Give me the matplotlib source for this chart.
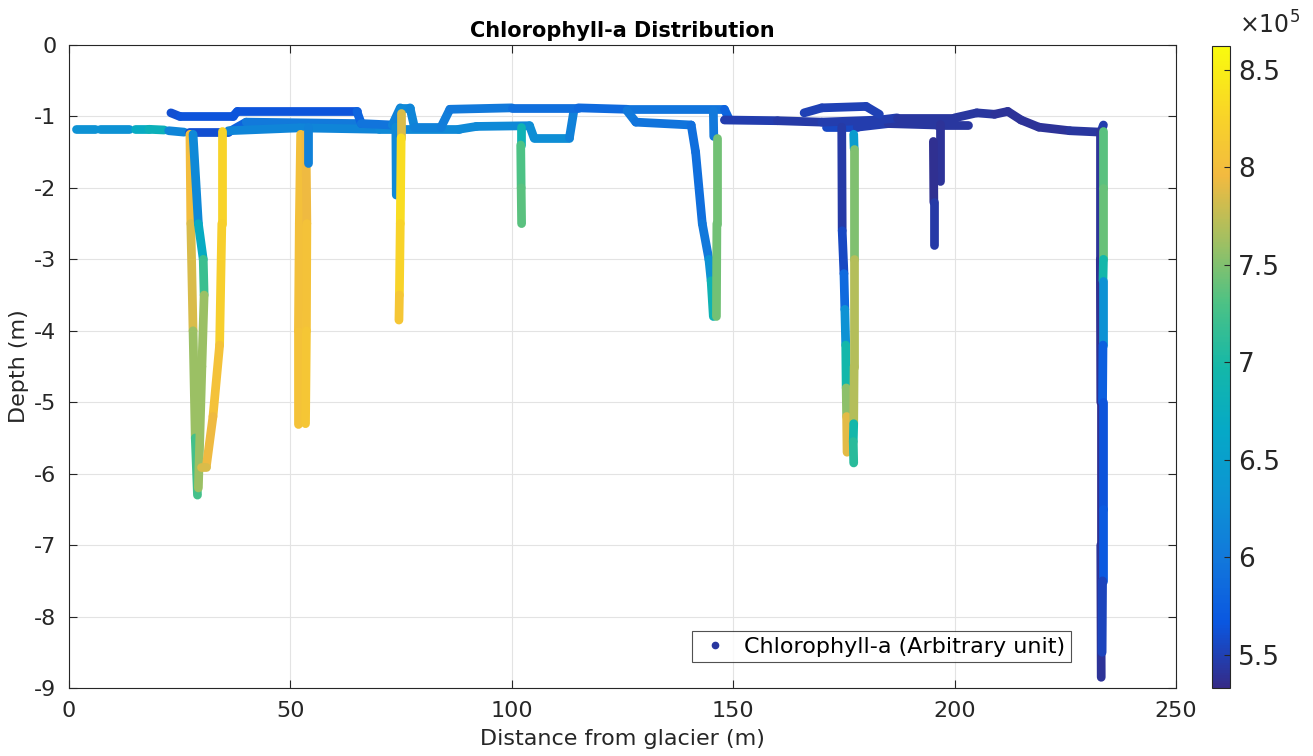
import numpy as np
import matplotlib.pyplot as plt
from matplotlib.collections import LineCollection
from matplotlib.colors import LinearSegmentedColormap, Normalize
from matplotlib.lines import Line2D

plt.rcParams['axes.unicode_minus'] = False

# boat track: (distance from glacier [m], depth [m], chlorophyll-a [x1e5 a.u.])
# surface pieces near the start (logger dropped samples here)
surf_dash_1 = [(1.5, -1.18, 6.3), (5.8, -1.18, 6.3)]
surf_dash_2 = [(7.0, -1.18, 6.3), (13.5, -1.18, 6.3)]
surf_dash_3 = [(15.0, -1.18, 6.4), (18.0, -1.18, 7.0), (21.5, -1.19, 6.6)]
surf_dash_4 = [(22.5, -1.2, 6.3), (26.0, -1.22, 6.0)]

# surface runs between the casts
surf_upper_west = [(23.0, -0.95, 5.6), (25.0, -1.0, 5.6), (37.0, -1.0, 5.7), (38.0, -0.93, 5.6),
                   (65.0, -0.93, 5.7), (66.0, -1.1, 5.9), (73.0, -1.12, 6.0), (74.8, -0.88, 6.2),
                   (77.0, -0.88, 6.2), (78.0, -1.15, 6.1), (84.0, -1.15, 6.1), (86.0, -0.9, 6.0),
                   (100.0, -0.88, 6.0), (115.0, -0.88, 5.8), (126.0, -0.9, 5.9), (148.0, -0.9, 6.0),
                   (149.0, -1.03, 5.6)]
surf_middle_west = [(27.0, -1.22, 5.6), (36.0, -1.22, 5.6), (40.0, -1.08, 6.0), (65.0, -1.1, 6.0)]
surf_lower_west = [(36.0, -1.2, 6.2), (52.0, -1.16, 6.1), (70.0, -1.18, 6.2), (88.0, -1.18, 6.2),
                   (92.0, -1.14, 6.2), (104.0, -1.13, 6.2), (105.0, -1.3, 6.3), (113.0, -1.3, 6.2),
                   (114.0, -0.92, 6.0)]
surf_branch_145 = [(126.0, -0.92, 6.0), (128.0, -1.08, 6.0), (140.5, -1.12, 5.9)]
surf_stub_146 = [(145.5, -0.92, 6.0), (145.6, -1.28, 6.0)]

surf_east_main = [(148.0, -1.05, 5.5), (160.0, -1.06, 5.45), (170.0, -1.08, 5.45),
                  (183.0, -1.05, 5.5), (187.0, -1.02, 5.45), (200.0, -1.02, 5.4),
                  (205.0, -0.95, 5.45), (209.0, -0.97, 5.4), (212.0, -0.93, 5.4),
                  (215.0, -1.05, 5.4), (219.0, -1.15, 5.4), (226.0, -1.2, 5.4),
                  (233.0, -1.22, 5.45), (233.6, -1.12, 5.5)]
surf_east_loop = [(166.0, -0.95, 5.5), (170.0, -0.88, 5.5), (180.0, -0.86, 5.5), (183.0, -0.97, 5.5)]
surf_east_lower = [(171.0, -1.15, 5.6), (178.0, -1.15, 5.5), (185.0, -1.1, 5.45),
                   (196.0, -1.12, 5.4), (203.0, -1.12, 5.45)]

# vertical casts
cast_28a = [(27.3, -1.25, 8.0), (27.5, -2.5, 8.0), (28.0, -4.0, 7.7), (28.5, -5.5, 7.5), (29.0, -6.3, 7.0)]
cast_28b = [(28.0, -1.25, 6.0), (29.2, -2.5, 6.4), (30.3, -3.0, 7.0), (30.5, -3.5, 7.4),
            (30.0, -4.5, 7.8), (29.2, -6.2, 7.4)]
cast_34 = [(34.5, -1.2, 8.2), (34.5, -2.5, 8.3), (34.0, -4.2, 8.1), (32.5, -5.2, 8.0),
           (31.0, -5.9, 7.9), (29.8, -5.9, 7.8)]
cast_52a = [(52.3, -1.25, 8.0), (52.0, -2.5, 8.05), (51.8, -4.0, 8.0), (51.8, -5.3, 8.1)]
cast_52b = [(53.5, -1.25, 7.9), (53.7, -2.5, 8.0), (53.6, -4.0, 8.1), (53.4, -5.3, 8.1)]
cast_54 = [(54.0, -1.15, 6.0), (54.0, -1.65, 6.2)]
cast_74a = [(73.8, -1.15, 6.1), (73.9, -2.1, 6.3)]
cast_74b = [(75.0, -0.95, 7.3), (75.0, -1.3, 8.4), (74.8, -2.5, 8.3), (74.6, -3.5, 8.2), (74.5, -3.85, 8.0)]
cast_102 = [(102.0, -1.15, 6.5), (102.0, -1.4, 7.2), (102.1, -2.0, 7.4), (102.2, -2.5, 7.3)]
cast_143 = [(140.5, -1.12, 5.9), (141.5, -1.5, 5.9), (143.0, -2.5, 5.9), (144.5, -3.0, 6.1),
            (145.0, -3.3, 6.5), (145.5, -3.8, 7.2)]
cast_146 = [(146.3, -1.3, 7.4), (146.3, -2.5, 7.5), (146.2, -3.8, 7.4)]
cast_175 = [(174.5, -1.15, 5.5), (174.6, -2.6, 5.4), (175.0, -3.2, 5.7), (175.2, -3.7, 6.0),
            (175.4, -4.2, 6.6), (175.5, -4.8, 7.3), (175.6, -5.2, 7.8), (175.7, -5.7, 8.0)]
cast_177 = [(177.2, -1.25, 5.5), (177.3, -1.45, 7.4), (177.3, -3.0, 7.6), (177.3, -4.5, 7.8),
            (177.2, -5.3, 7.6), (177.1, -5.55, 6.3), (177.2, -5.85, 7.9)]
cast_196a = [(196.6, -1.1, 5.4), (196.6, -1.9, 5.4)]
cast_196b = [(195.2, -1.35, 5.35), (195.3, -2.2, 5.4), (195.3, -2.8, 5.5)]
cast_233a = [(232.9, -1.2, 5.4), (232.9, -3.0, 5.4), (233.0, -5.0, 5.35), (233.0, -7.0, 5.4),
             (233.1, -8.85, 5.4)]
cast_233b = [(233.6, -1.2, 7.2), (233.6, -2.0, 7.5), (233.6, -3.0, 7.3), (233.5, -3.3, 6.6),
             (233.5, -4.2, 6.0), (233.4, -5.0, 5.5), (233.4, -6.5, 5.8), (233.4, -7.5, 5.6),
             (233.3, -8.5, 5.45)]

tracks = [surf_dash_1, surf_dash_2, surf_dash_3, surf_dash_4,
          surf_middle_west, surf_lower_west, surf_upper_west, surf_branch_145, surf_stub_146,
          cast_28a, cast_28b, cast_34, cast_52a, cast_52b, cast_54, cast_74a, cast_74b,
          cast_102, cast_143, cast_146,
          surf_east_lower, surf_east_main, surf_east_loop,
          cast_175, cast_177, cast_196a, cast_196b, cast_233a, cast_233b]

chl_min, chl_max = 5.33, 8.62

# parula-like colormap
parula = LinearSegmentedColormap.from_list('parula', [
    (0.00, (0.208, 0.166, 0.529)), (0.10, (0.040, 0.340, 0.880)),
    (0.20, (0.070, 0.470, 0.860)), (0.30, (0.050, 0.580, 0.830)),
    (0.40, (0.020, 0.660, 0.780)), (0.50, (0.080, 0.720, 0.660)),
    (0.60, (0.300, 0.760, 0.520)), (0.70, (0.640, 0.750, 0.380)),
    (0.80, (0.950, 0.730, 0.250)), (0.90, (0.975, 0.840, 0.150)),
    (1.00, (0.976, 0.983, 0.054))])
norm = Normalize(chl_min, chl_max)

fig = plt.figure(figsize=(13.13, 7.56), dpi=100)
ax = fig.add_axes([0.0526, 0.0899, 0.8431, 0.8506])

for tr in tracks:
    pts = np.array(tr)
    segs = np.stack([pts[:-1, :2], pts[1:, :2]], axis=1)
    vals = (pts[:-1, 2] + pts[1:, 2]) / 2
    lc = LineCollection(segs, cmap=parula, norm=norm, linewidths=6.3,
                        capstyle='round', joinstyle='round')
    lc.set_array(vals)
    ax.add_collection(lc)

ax.set_xlim(0, 250)
ax.set_ylim(-9, 0)
ax.set_xticks(range(0, 251, 50))
ax.set_yticks(range(-9, 1))
ax.grid(True, color='#e3e3e3', linewidth=0.8)
ax.set_axisbelow(True)
ax.tick_params(direction='in', length=6, labelsize=16, colors='#262626',
               top=True, right=True, pad=9)
for sp in ax.spines.values():
    sp.set_color('#262626')
    sp.set_linewidth(0.8)

ax.set_xlabel('Distance from glacier (m)', fontsize=16, color='#262626', labelpad=6)
ax.set_ylabel('Depth (m)', fontsize=16, color='#262626', labelpad=4)
ax.set_title('Chlorophyll-a Distribution', fontsize=15, fontweight='bold', pad=6)

handle = Line2D([], [], marker='.', linestyle='none', color=parula(0.03), markersize=9)
leg = ax.legend([handle], ['Chlorophyll-a (Arbitrary unit)'], loc='lower right',
                bbox_to_anchor=(0.905, 0.04), fontsize=16, frameon=True, fancybox=False,
                handletextpad=0.5, borderpad=0.25, handlelength=1.6, borderaxespad=0)
leg.get_frame().set_edgecolor('#262626')
leg.get_frame().set_linewidth(0.8)

# colorbar
cax = fig.add_axes([0.9231, 0.0899, 0.0137, 0.849])
sm = plt.cm.ScalarMappable(norm=norm, cmap=parula)
cb = fig.colorbar(sm, cax=cax)
cb.set_ticks([5.5, 6, 6.5, 7, 7.5, 8, 8.5])
cb.set_ticklabels(['5.5', '6', '6.5', '7', '7.5', '8', '8.5'])
cb.ax.tick_params(labelsize=19, colors='#262626', direction='in', length=4, pad=6)
cb.outline.set_edgecolor('#262626')
cb.outline.set_linewidth(0.8)
fig.text(0.944, 0.955, r'$\times10^5$', fontsize=17, color='#262626')

fig.savefig('out.png', dpi=100)
